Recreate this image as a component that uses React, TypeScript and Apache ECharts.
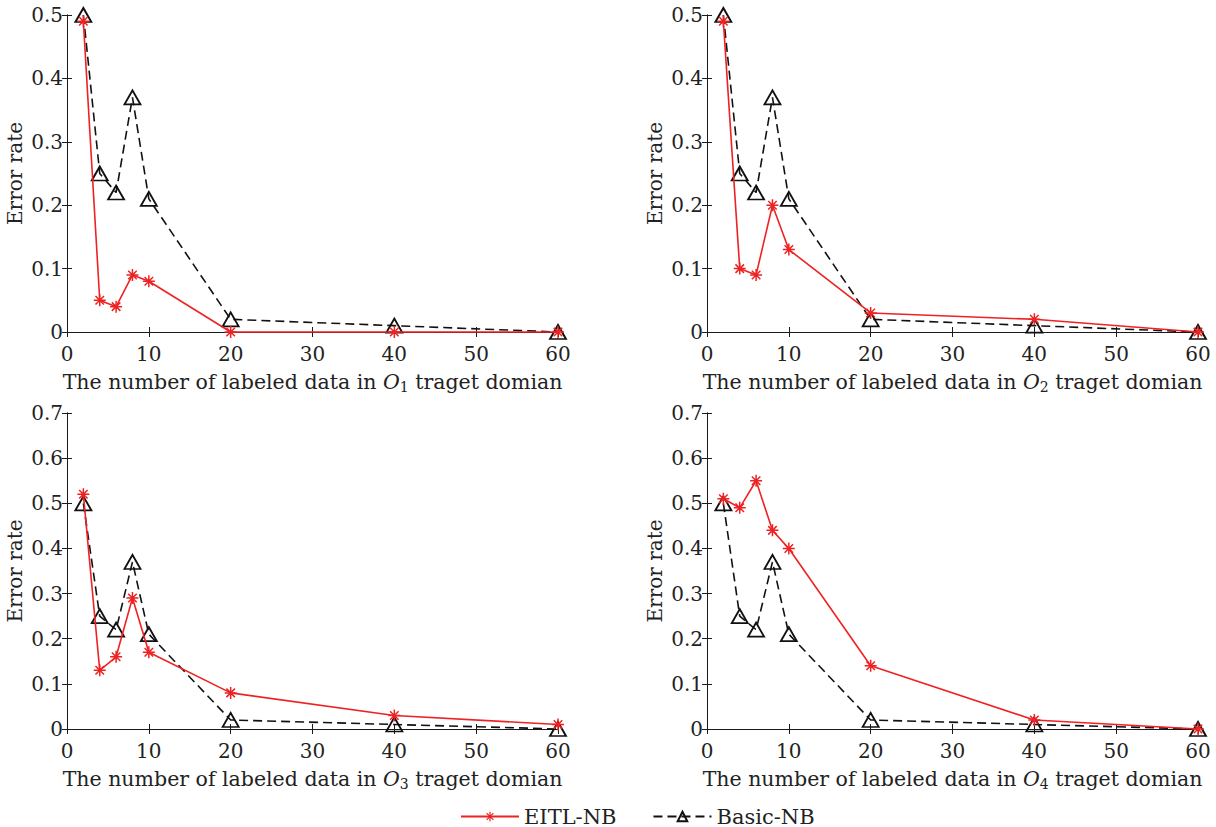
import React, { useEffect, useRef } from "react";
import * as echarts from "echarts";

const xs = [2, 4, 6, 8, 10, 20, 40, 60];
const eitl1 = [0.49, 0.05, 0.04, 0.09, 0.08, 0.0, 0.0, 0.0];
const basic1 = [0.5, 0.25, 0.22, 0.37, 0.21, 0.02, 0.01, 0.0];
const eitl2 = [0.49, 0.1, 0.09, 0.2, 0.13, 0.03, 0.02, 0.0];
const basic2 = [0.5, 0.25, 0.22, 0.37, 0.21, 0.02, 0.01, 0.0];
const eitl3 = [0.52, 0.13, 0.16, 0.29, 0.17, 0.08, 0.03, 0.01];
const basic3 = [0.5, 0.25, 0.22, 0.37, 0.21, 0.02, 0.01, 0.0];
const eitl4 = [0.51, 0.49, 0.55, 0.44, 0.4, 0.14, 0.02, 0.0];
const basic4 = [0.5, 0.25, 0.22, 0.37, 0.21, 0.02, 0.01, 0.0];
const yMaxes = [0.5, 0.5, 0.7, 0.7];
const domainSubs = ["1", "2", "3", "4"];

const ASTERISK =
  "path://M0 10.5L24 10.5L24 13.5L0 13.5Z M10.5 0L13.5 0L13.5 24L10.5 24Z M4.56 2.44L21.56 19.44L19.44 21.56L2.44 4.56Z M19.44 2.44L21.56 4.56L4.56 21.56L2.44 19.44Z";

const FONT = "DejaVu Serif";
const TXT = "#222";
const RED = "#ee2222";

export default function App() {
  const ref = useRef<HTMLDivElement>(null);
  useEffect(() => {
    if (!ref.current) return;
    const chart = echarts.init(ref.current, undefined, { renderer: "svg" });
    const grids = [
      { left: 67, top: 15, width: 491, height: 317, outerBoundsMode: "none", containLabel: false },
      { left: 707, top: 15, width: 491, height: 317, outerBoundsMode: "none", containLabel: false },
      { left: 67, top: 413, width: 491, height: 316, outerBoundsMode: "none", containLabel: false },
      { left: 707, top: 413, width: 491, height: 316, outerBoundsMode: "none", containLabel: false },
    ];
    const eitl = [eitl1, eitl2, eitl3, eitl4];
    const basic = [basic1, basic2, basic3, basic4];
    const axisLine = { show: true, lineStyle: { color: "#1a1a1a", width: 1 } };
    const tick = { show: true, inside: true, length: 5, lineStyle: { color: "#1a1a1a" } };
    const xAxis: any[] = [];
    const yAxis: any[] = [];
    const series: any[] = [];
    grids.forEach((g, i) => {
      xAxis.push({
        type: "value",
        gridIndex: i,
        min: 0,
        max: 60,
        interval: 10,
        position: "bottom",
        axisLine,
        axisTick: tick,
        splitLine: { show: false },
        axisLabel: { color: TXT, fontFamily: FONT, fontSize: 20, margin: 12 },
        name: `The number of labeled data in {i|O}{s|${domainSubs[i]}} traget domian`,
        nameLocation: "middle",
        nameGap: 38,
        nameTextStyle: {
          color: TXT,
          fontFamily: FONT,
          fontSize: 20.5,
          rich: {
            i: { fontFamily: FONT, fontSize: 20.5, fontStyle: "italic", color: TXT },
            s: { fontFamily: FONT, fontSize: 14, color: TXT, verticalAlign: "bottom", padding: [10, 0, 0, 0] },
          },
        },
      });
      xAxis.push({
        type: "value",
        gridIndex: i,
        min: 0,
        max: 60,
        interval: 10,
        position: "top",
        axisLine,
        axisTick: tick,
        splitLine: { show: false },
        axisLabel: { show: false },
      });
      yAxis.push({
        type: "value",
        gridIndex: i,
        min: 0,
        max: yMaxes[i],
        interval: 0.1,
        position: "left",
        axisLine,
        axisTick: tick,
        splitLine: { show: false },
        axisLabel: { color: TXT, fontFamily: FONT, fontSize: 20, margin: 4 },
        name: "Error rate",
        nameLocation: "middle",
        nameGap: 42,
        nameTextStyle: { color: TXT, fontFamily: FONT, fontSize: 20 },
      });
      yAxis.push({
        type: "value",
        gridIndex: i,
        min: 0,
        max: yMaxes[i],
        interval: 0.1,
        position: "right",
        axisLine,
        axisTick: tick,
        splitLine: { show: false },
        axisLabel: { show: false },
      });
      series.push({
        type: "line",
        name: "EITL-NB",
        xAxisIndex: 2 * i,
        yAxisIndex: 2 * i,
        data: xs.map((x, k) => [x, eitl[i][k]]),
        symbol: ASTERISK,
        symbolSize: 12,
        showAllSymbol: true,
        clip: false,
        z: 3,
        lineStyle: { color: RED, width: 1.6 },
        itemStyle: { color: RED, borderWidth: 0 },
      });
      series.push({
        type: "line",
        name: "Basic-NB",
        xAxisIndex: 2 * i,
        yAxisIndex: 2 * i,
        data: xs.map((x, k) => [x, basic[i][k]]),
        symbol: "triangle",
        symbolSize: [16, 14],
        showAllSymbol: true,
        clip: false,
        z: 2,
        lineStyle: { color: "#111", width: 1.6, type: [9, 5] },
        itemStyle: { color: "rgba(255,255,255,0)", borderColor: "#111", borderWidth: 1.8 },
      });
    });
    chart.setOption({
      animation: false,
      backgroundColor: "#fff",
      grid: grids,
      xAxis,
      yAxis,
      series,
      legend: {
        data: ["EITL-NB", "Basic-NB"],
        left: 455,
        top: 801,
        itemWidth: 58,
        itemHeight: 12,
        itemGap: 36,
        textStyle: { color: TXT, fontFamily: FONT, fontSize: 21 },
      },
    });
    return () => chart.dispose();
  }, []);
  return (
    <div
      ref={ref}
      style={{ position: "fixed", left: 0, top: 0, width: 1216, height: 827 }}
    />
  );
}
